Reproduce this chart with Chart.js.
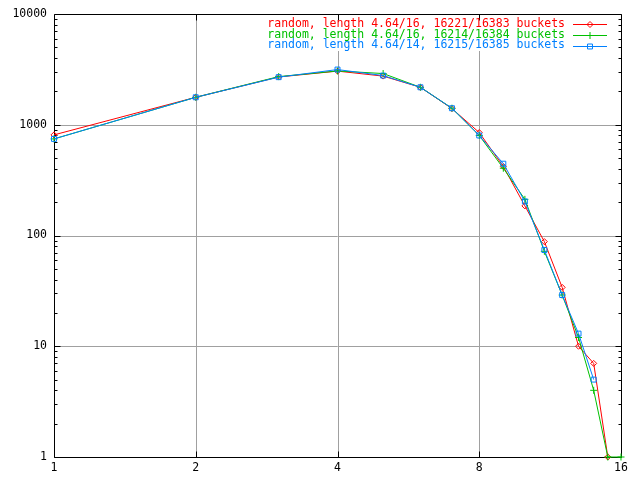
<!DOCTYPE html>
<html>
<head>
<meta charset="utf-8">
<script src="https://cdn.jsdelivr.net/npm/chart.js@4/dist/chart.umd.min.js"></script>
<style>
    html, body { margin: 0; padding: 0; background: #fff; }
    #wrap { width: 640px; height: 480px; }
</style>
</head>
<body>
<div id="wrap"><canvas id="chart" width="640" height="480"></canvas></div>
<script>
// bucket length on x (log2 axis), number of buckets on y (log10 axis)
const xValues = [1, 2, 3, 4, 5, 6, 7, 8, 9, 10, 11, 12, 13, 14, 15, 16];
const redValues = [810, 1770, 2700, 3050, 2750, 2180, 1400, 850, 420, 185, 88, 34, 10, 7, 1, null];
const greenValues = [745, 1770, 2720, 3060, 2900, 2180, 1410, 800, 405, 212, 72, 29, 12, 4, 1, 1];
const blueValues = [745, 1770, 2690, 3150, 2780, 2180, 1410, 800, 445, 203, 74, 29, 13, 5, null, null];

const seriesLabels = [
    'random, length 4.64/16, 16221/16383 buckets',
    'random, length 4.64/16, 16214/16384 buckets',
    'random, length 4.64/14, 16215/16385 buckets'
];
const xTicks = [1, 2, 4, 8, 16];
const yTicks = [1, 10, 100, 1000, 10000];

const FONT = '11.5px "DejaVu Sans Mono", "Liberation Mono", monospace';
const GRID = '#a0a0a0';

const toPoints = (values) => xValues.map((x, i) => ({ x, y: values[i] }));

// later series are painted on top, like gnuplot does
const makeSet = (label, values, color, style, radius, order) => ({
    label,
    data: toPoints(values),
    order,
    borderColor: color,
    backgroundColor: 'rgba(0,0,0,0)',
    borderWidth: 1,
    pointStyle: style,
    pointRadius: radius,
    pointBorderWidth: 1,
    pointBorderColor: color,
    pointBackgroundColor: 'rgba(0,0,0,0)',
    tension: 0,
    spanGaps: false,
    clip: false
});

const datasets = [
    makeSet(seriesLabels[0], redValues, '#ff0000', 'rectRot', 3, 3),
    makeSet(seriesLabels[1], greenValues, '#00c000', 'cross', 3.5, 2),
    makeSet(seriesLabels[2], blueValues, '#0080ff', 'rect', 3.5, 1)
];

// gnuplot-like frame: grid, box, inward ticks and the key
const frame = {
    id: 'frame',
    beforeDatasetsDraw(chart) {
        const { ctx, chartArea: a, scales } = chart;
        const xs = scales.x, ys = scales.y;
        const keyBox = { left: 258, right: 612, top: 17, bottom: 51 };
        ctx.save();
        ctx.strokeStyle = GRID;
        ctx.lineWidth = 1;
        ctx.beginPath();
        xTicks.slice(1, -1).forEach((v) => {
            const px = Math.round(xs.getPixelForValue(v)) + 0.5;
            if (px > keyBox.left && px < keyBox.right) {
                ctx.moveTo(px, a.top); ctx.lineTo(px, keyBox.top);
                ctx.moveTo(px, keyBox.bottom); ctx.lineTo(px, a.bottom);
            } else {
                ctx.moveTo(px, a.top); ctx.lineTo(px, a.bottom);
            }
        });
        yTicks.slice(1, -1).forEach((v) => {
            const py = Math.round(ys.getPixelForValue(v)) + 0.5;
            ctx.moveTo(a.left, py); ctx.lineTo(a.right, py);
        });
        ctx.stroke();

        // box
        ctx.strokeStyle = '#000';
        ctx.beginPath();
        const l = Math.round(a.left) + 0.5, r = Math.round(a.right) + 0.5;
        const t = Math.round(a.top) + 0.5, b = Math.round(a.bottom) + 0.5;
        ctx.rect(l, t, r - l, b - t);
        // x ticks
        xTicks.forEach((v) => {
            const px = Math.round(xs.getPixelForValue(v)) + 0.5;
            ctx.moveTo(px, b); ctx.lineTo(px, b - 6);
            ctx.moveTo(px, t); ctx.lineTo(px, t + 6);
        });
        // y ticks, major + minor
        for (let d = 1; d < 10000; d *= 10) {
            for (let m = 1; m <= 9; m++) {
                const py = Math.round(ys.getPixelForValue(d * m)) + 0.5;
                const len = m === 1 ? 6 : 3;
                ctx.moveTo(l, py); ctx.lineTo(l + len, py);
                ctx.moveTo(r, py); ctx.lineTo(r - len, py);
            }
        }
        ctx.stroke();

        // key
        ctx.font = FONT;
        ctx.textAlign = 'right';
        ctx.textBaseline = 'middle';
        const rowsY = [24, 35, 45.5];
        chart.data.datasets.forEach((ds, i) => {
            const y = Math.round(rowsY[i]) + 0.5;
            ctx.fillStyle = ds.borderColor;
            ctx.fillText(ds.label, 565, rowsY[i]);
            ctx.strokeStyle = ds.borderColor;
            ctx.lineWidth = 1;
            ctx.beginPath();
            ctx.moveTo(573, y);
            ctx.lineTo(607, y);
            ctx.stroke();
            ctx.fillStyle = 'rgba(0,0,0,0)';
            Chart.helpers.drawPoint(ctx, {
                pointStyle: ds.pointStyle,
                radius: ds.pointRadius,
                borderWidth: 1
            }, 590, y);
        });
        ctx.restore();
    }
};

new Chart(document.getElementById('chart'), {
    type: 'line',
    data: { datasets },
    options: {
        responsive: false,
        animation: false,
        layout: { padding: { top: 14, right: 19, left: 0, bottom: 0 } },
        plugins: {
            legend: { display: false },
            tooltip: { enabled: false }
        },
        scales: {
            x: {
                type: 'logarithmic',
                min: 1,
                max: 16,
                afterBuildTicks: (scale) => { scale.ticks = xTicks.map((v) => ({ value: v })); },
                afterFit: (scale) => { scale.height = 23; },
                grid: { display: false, drawTicks: false },
                border: { display: false },
                ticks: {
                    color: '#000',
                    font: { family: '"DejaVu Sans Mono", monospace', size: 11.5 },
                    padding: 4,
                    maxRotation: 0,
                    autoSkip: false,
                    callback: (v) => String(v)
                }
            },
            y: {
                type: 'logarithmic',
                min: 1,
                max: 10000,
                afterBuildTicks: (scale) => { scale.ticks = yTicks.map((v) => ({ value: v })); },
                afterFit: (scale) => { scale.width = 54; },
                grid: { display: false, drawTicks: false },
                border: { display: false },
                ticks: {
                    color: '#000',
                    font: { family: '"DejaVu Sans Mono", monospace', size: 11.5 },
                    padding: 7,
                    autoSkip: false,
                    callback: (v) => String(v)
                }
            }
        }
    },
    plugins: [frame]
});
</script>
</body>
</html>
